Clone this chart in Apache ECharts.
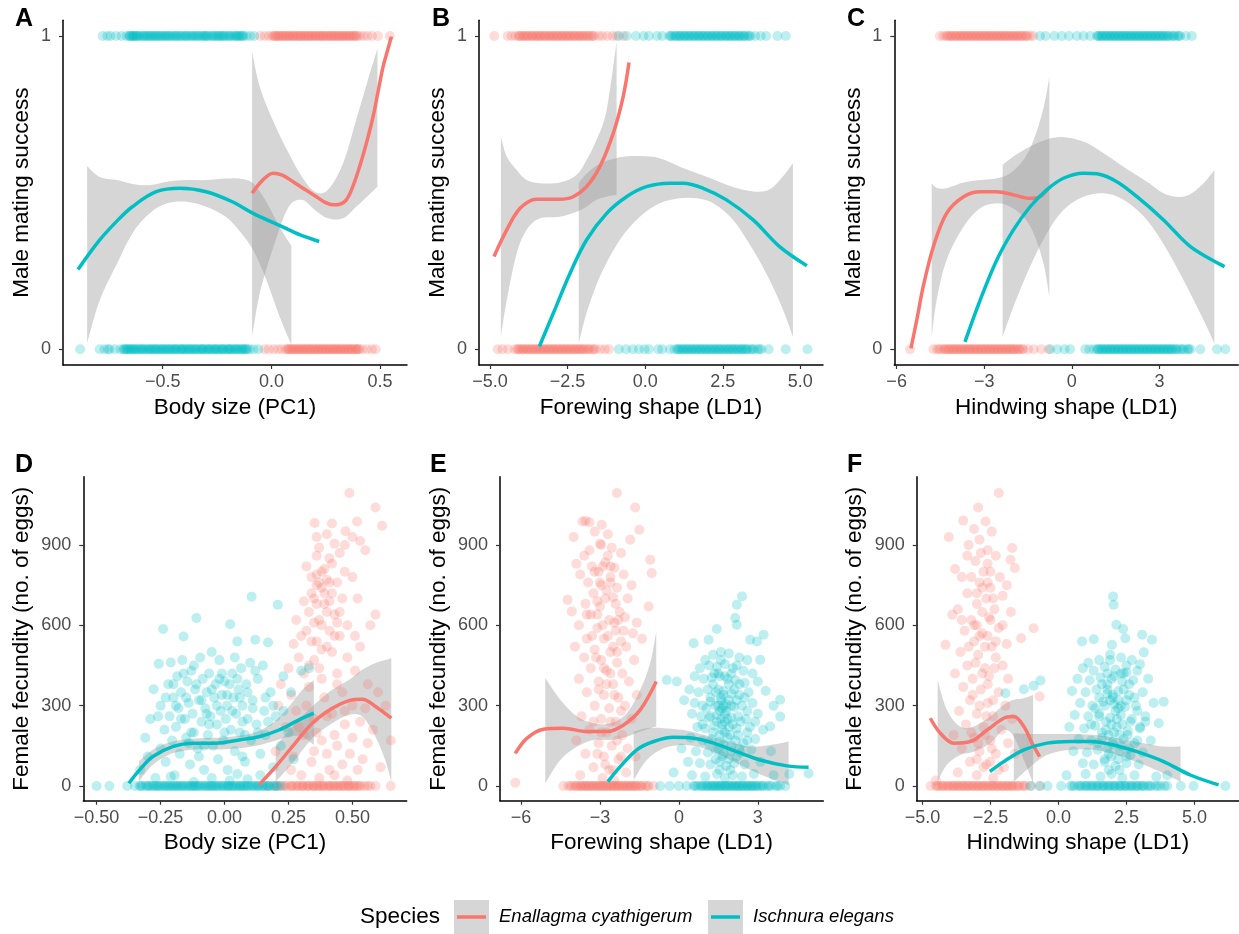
<!DOCTYPE html>
<html><head><meta charset="utf-8">
<script src="https://cdn.jsdelivr.net/npm/echarts@6/dist/echarts.min.js"></script>
<style>html,body{margin:0;padding:0;background:#fff}#c{width:1239px;height:934px}</style>
</head><body><div id="c"></div>
<script>
// ---------- tick values ----------
const ticksA = [-0.5, 0, 0.5];
const ticksB = [-5, -2.5, 0, 2.5, 5];
const ticksC = [-6, -3, 0, 3];
const ticksD = [-0.5, -0.25, 0, 0.25, 0.5];
const ticksE = [-6, -3, 0, 3];
const ticksF = [-5, -2.5, 0, 2.5, 5];
const ticksTopY = [0, 1];
const ticksBotY = [0, 300, 600, 900];

// ---------- Panel A : male mating success vs body size (x of successful=1 / unsuccessful=0) ----------
const aTopCyan = [-0.776,-0.755,-0.74,-0.715,-0.69,-0.668,-0.655,-0.648,-0.641,-0.633,-0.627,-0.618,-0.606,-0.597,-0.585,-0.578,-0.566,-0.553,-0.547,-0.534,-0.522,-0.515,-0.503,-0.494,-0.488,-0.476,-0.463,-0.455,-0.447,-0.436,-0.428,-0.414,-0.405,-0.398,-0.386,-0.377,-0.369,-0.356,-0.348,-0.335,-0.327,-0.318,-0.307,-0.296,-0.289,-0.277,-0.266,-0.258,-0.245,-0.238,-0.226,-0.214,-0.205,-0.197,-0.186,-0.175,-0.168,-0.157,-0.146,-0.138,-0.129,-0.115,-0.098,-0.079];
const aTopCyanCore = [-0.652,-0.637,-0.622,-0.611,-0.59,-0.571,-0.559,-0.54,-0.528,-0.508,-0.482,-0.469,-0.441,-0.42,-0.392,-0.362,-0.341,-0.312,-0.3,-0.271,-0.25,-0.232,-0.22,-0.19,-0.162,-0.151,-0.133];
const aTopRed = [-0.052,-0.03,-0.012,0.004,0.012,0.021,0.028,0.037,0.046,0.054,0.061,0.072,0.079,0.088,0.097,0.105,0.113,0.124,0.131,0.139,0.148,0.157,0.166,0.174,0.183,0.191,0.2,0.208,0.217,0.226,0.234,0.243,0.251,0.262,0.27,0.279,0.287,0.296,0.305,0.313,0.322,0.331,0.339,0.348,0.357,0.366,0.374,0.385,0.396,0.408,0.425,0.442,0.463,0.49,0.545];
const aTopRedCore = [0.016,0.033,0.05,0.067,0.084,0.101,0.119,0.135,0.153,0.17,0.187,0.204,0.222,0.238,0.256,0.274,0.291,0.309,0.327,0.344,0.361,0.379,0.39];
const aBotCyan = [-0.88,-0.79,-0.768,-0.752,-0.745,-0.72,-0.695,-0.681,-0.672,-0.664,-0.655,-0.643,-0.637,-0.626,-0.614,-0.606,-0.594,-0.583,-0.575,-0.562,-0.551,-0.544,-0.532,-0.521,-0.513,-0.502,-0.49,-0.483,-0.471,-0.46,-0.452,-0.44,-0.431,-0.42,-0.411,-0.399,-0.392,-0.38,-0.369,-0.361,-0.35,-0.338,-0.33,-0.318,-0.309,-0.297,-0.289,-0.276,-0.268,-0.257,-0.246,-0.238,-0.226,-0.217,-0.205,-0.196,-0.185,-0.176,-0.164,-0.153,-0.145,-0.133,-0.122,-0.111,-0.1,-0.082,-0.06];
const aBotCyanCore = [-0.676,-0.66,-0.648,-0.631,-0.62,-0.6,-0.589,-0.568,-0.556,-0.538,-0.527,-0.507,-0.496,-0.477,-0.465,-0.446,-0.436,-0.415,-0.405,-0.386,-0.374,-0.355,-0.344,-0.323,-0.314,-0.293,-0.282,-0.262,-0.252,-0.231,-0.221,-0.2,-0.19,-0.17,-0.159,-0.139,-0.127,-0.116];
const aBotRed = [-0.032,-0.012,0.01,0.03,0.048,0.066,0.074,0.083,0.091,0.099,0.108,0.117,0.125,0.134,0.142,0.151,0.16,0.168,0.177,0.185,0.194,0.203,0.212,0.22,0.229,0.237,0.246,0.255,0.263,0.272,0.28,0.289,0.298,0.306,0.315,0.323,0.332,0.341,0.35,0.358,0.367,0.376,0.385,0.394,0.404,0.418,0.44,0.462,0.48];
const aBotRedCore = [0.078,0.095,0.112,0.129,0.146,0.164,0.181,0.198,0.216,0.233,0.25,0.268,0.285,0.302,0.319,0.337,0.354,0.371,0.389,0.399];
const aRedFit = [[-0.089,0.498],[-0.04,0.54],[0.008,0.562],[0.05,0.556],[0.1,0.535],[0.155,0.51],[0.207,0.487],[0.25,0.468],[0.284,0.461],[0.315,0.463],[0.345,0.477],[0.375,0.52],[0.406,0.583],[0.438,0.66],[0.468,0.743],[0.493,0.83],[0.514,0.902],[0.535,0.955],[0.552,0.998]];
const aRedBand = [[-0.089,0.04,0.95],[-0.05,0.189,0.83],[0.02,0.349,0.71],[0.08,0.455,0.626],[0.14,0.477,0.551],[0.2,0.445,0.503],[0.26,0.418,0.509],[0.33,0.418,0.594],[0.39,0.455,0.732],[0.44,0.487,0.85],[0.488,0.519,0.96]];
const aCyanFit = [[-0.89,0.255],[-0.79,0.349],[-0.71,0.41],[-0.64,0.455],[-0.53,0.503],[-0.42,0.514],[-0.3,0.503],[-0.18,0.471],[-0.084,0.434],[0.054,0.39],[0.13,0.366],[0.22,0.344]];
const aCyanBand = [[-0.848,0.019,0.585],[-0.79,0.157,0.55],[-0.71,0.274,0.54],[-0.64,0.37,0.528],[-0.56,0.434,0.524],[-0.48,0.466,0.535],[-0.39,0.471,0.54],[-0.3,0.455,0.54],[-0.21,0.423,0.545],[-0.15,0.38,0.545],[-0.084,0.317,0.53],[-0.023,0.221,0.47],[0.038,0.104,0.39],[0.092,0.014,0.33]];

// ---------- Panel B : forewing shape ----------
const bTopRed = [-4.86,-4.43,-4.3,-4.18,-4.08,-4.02,-3.95,-3.88,-3.82,-3.75,-3.67,-3.61,-3.53,-3.47,-3.4,-3.34,-3.26,-3.2,-3.12,-3.05,-2.99,-2.92,-2.85,-2.79,-2.71,-2.65,-2.58,-2.51,-2.45,-2.37,-2.3,-2.24,-2.16,-2.09,-2.03,-1.95,-1.88,-1.8,-1.73,-1.64,-1.5,-1.38,-1.22,-1.05,-0.92,-0.7];
const bTopRedCore = [-4.05,-3.91,-3.78,-3.64,-3.5,-3.37,-3.23,-3.09,-2.95,-2.82,-2.68,-2.54,-2.41,-2.27,-2.13,-1.99,-1.84,-1.69];
const bTopCyan = [-0.85,-0.6,-0.3,-0.05,0.12,0.38,0.55,0.78,0.86,0.94,1.02,1.09,1.16,1.24,1.31,1.38,1.46,1.53,1.6,1.68,1.75,1.82,1.9,1.97,2.04,2.12,2.19,2.26,2.34,2.41,2.48,2.56,2.63,2.7,2.78,2.85,2.92,3.0,3.07,3.14,3.22,3.3,3.4,3.55,3.72,3.9,4.26,4.53];
const bTopCyanCore = [0.82,0.98,1.12,1.27,1.42,1.57,1.72,1.86,2.01,2.15,2.3,2.45,2.6,2.74,2.89,3.03,3.18,3.35];
const bBotRed = [-4.75,-4.6,-4.42,-4.2,-4.12,-4.05,-3.98,-3.91,-3.84,-3.77,-3.7,-3.63,-3.56,-3.49,-3.42,-3.35,-3.28,-3.21,-3.14,-3.07,-3.0,-2.93,-2.86,-2.79,-2.72,-2.65,-2.58,-2.51,-2.44,-2.37,-2.3,-2.23,-2.16,-2.09,-2.02,-1.95,-1.87,-1.79,-1.7,-1.6,-1.45,-1.3,-1.17];
const bBotRedCore = [-4.08,-3.94,-3.8,-3.66,-3.52,-3.38,-3.24,-3.1,-2.96,-2.82,-2.68,-2.55,-2.41,-2.27,-2.13,-1.99,-1.83,-1.65];
const bBotCyan = [-0.85,-0.62,-0.4,-0.2,-0.02,0.12,0.42,0.55,0.8,0.95,1.03,1.1,1.17,1.25,1.32,1.39,1.47,1.54,1.61,1.69,1.76,1.83,1.91,1.98,2.05,2.13,2.2,2.27,2.35,2.42,2.49,2.57,2.64,2.71,2.79,2.86,2.93,3.01,3.08,3.15,3.23,3.3,3.4,3.5,3.62,3.75,3.98,4.53,5.23];
const bBotCyanCore = [1.07,1.21,1.36,1.5,1.65,1.79,1.94,2.09,2.24,2.38,2.53,2.68,2.82,2.97,3.12,3.26,3.45,3.68];
const bRedFit = [[-4.87,0.296],[-4.46,0.381],[-4.03,0.45],[-3.5,0.479],[-2.75,0.479],[-2.32,0.487],[-1.89,0.519],[-1.46,0.583],[-1.03,0.689],[-0.71,0.806],[-0.52,0.915]];
const bRedBand = [[-4.65,0.04,0.679],[-4.46,0.157,0.615],[-4.14,0.306,0.572],[-3.82,0.381,0.54],[-3.39,0.418,0.53],[-2.75,0.423,0.532],[-2.21,0.439,0.556],[-1.89,0.455,0.604],[-1.57,0.477,0.668],[-1.24,0.487,0.764],[-0.92,0.493,0.982]];
const bCyanFit = [[-3.41,0.009],[-2.96,0.115],[-2.42,0.243],[-1.89,0.349],[-1.24,0.434],[-0.6,0.487],[0.04,0.519],[0.79,0.53],[1.22,0.53],[1.87,0.514],[2.62,0.477],[3.48,0.413],[4.33,0.328],[5.21,0.267]];
const bCyanBand = [[-2.14,0.019,0.53],[-1.89,0.115,0.56],[-1.46,0.232,0.592],[-0.82,0.349,0.613],[-0.17,0.423,0.617],[0.47,0.466,0.61],[1.12,0.482,0.583],[1.65,0.482,0.563],[2.19,0.466,0.543],[2.83,0.413,0.518],[3.48,0.317,0.504],[4.01,0.221,0.51],[4.44,0.126,0.552],[4.76,0.04,0.594]];

// ---------- Panel C : hindwing shape ----------
const cTopRed = [-4.52,-4.4,-4.31,-4.22,-4.15,-4.08,-4.0,-3.93,-3.86,-3.79,-3.72,-3.65,-3.58,-3.51,-3.44,-3.37,-3.3,-3.23,-3.16,-3.09,-3.02,-2.95,-2.88,-2.81,-2.74,-2.67,-2.6,-2.53,-2.46,-2.39,-2.32,-2.25,-2.18,-2.11,-2.04,-1.97,-1.9,-1.83,-1.76,-1.68,-1.6,-1.52,-1.42,-1.32];
const cTopRedCore = [-4.26,-4.12,-3.97,-3.83,-3.69,-3.55,-3.41,-3.27,-3.13,-2.99,-2.85,-2.71,-2.57,-2.43,-2.29,-2.15,-2.0,-1.86,-1.72,-1.56];
const cTopCyan = [-1.09,-0.9,-0.6,-0.35,-0.1,0.17,0.4,0.63,0.86,0.93,1.0,1.07,1.14,1.21,1.28,1.35,1.42,1.49,1.56,1.63,1.7,1.77,1.84,1.91,1.98,2.05,2.12,2.19,2.26,2.33,2.4,2.47,2.54,2.61,2.68,2.75,2.82,2.89,2.96,3.03,3.1,3.17,3.25,3.33,3.42,3.52,3.62,3.71,3.9,4.11];
const cTopCyanCore = [0.9,1.04,1.18,1.32,1.46,1.6,1.74,1.88,2.02,2.16,2.3,2.44,2.58,2.72,2.86,3.0,3.14,3.29,3.47,3.66];
const cBotRed = [-5.54,-4.74,-4.62,-4.5,-4.4,-4.32,-4.25,-4.18,-4.11,-4.04,-3.97,-3.9,-3.83,-3.76,-3.69,-3.62,-3.55,-3.48,-3.41,-3.34,-3.27,-3.2,-3.13,-3.06,-2.99,-2.92,-2.85,-2.78,-2.71,-2.64,-2.57,-2.5,-2.43,-2.36,-2.29,-2.22,-2.15,-2.08,-2.01,-1.94,-1.86,-1.78,-1.7,-1.5,-1.3,-1.05,-0.8];
const cBotRedCore = [-4.55,-4.36,-4.21,-4.07,-3.93,-3.79,-3.65,-3.51,-3.37,-3.23,-3.09,-2.95,-2.81,-2.67,-2.53,-2.39,-2.25,-2.11,-1.97,-1.82,-1.66];
const cBotCyan = [-0.74,-0.5,-0.25,-0.06,0.46,0.6,0.75,0.86,0.93,1.0,1.07,1.14,1.21,1.28,1.35,1.42,1.49,1.56,1.63,1.7,1.77,1.84,1.91,1.98,2.05,2.12,2.19,2.26,2.33,2.4,2.47,2.54,2.61,2.68,2.75,2.82,2.89,2.96,3.03,3.1,3.17,3.24,3.31,3.38,3.45,3.53,3.62,3.72,3.84,3.96,4.06,4.4,4.97,5.26];
const cBotCyanCore = [0.9,1.04,1.18,1.32,1.46,1.6,1.74,1.88,2.02,2.16,2.3,2.44,2.58,2.72,2.86,3.0,3.14,3.28,3.42,3.58,3.78,4.0];
const cRedFit = [[-5.51,0.003],[-5.31,0.094],[-5.09,0.2],[-4.74,0.328],[-4.29,0.434],[-3.71,0.487],[-3.14,0.503],[-2.57,0.503],[-2.0,0.493],[-1.43,0.482],[-1.09,0.487],[-0.8,0.514]];
const cRedBand = [[-4.8,0.04,0.53],[-4.63,0.157,0.516],[-4.29,0.285,0.514],[-3.71,0.391,0.532],[-3.14,0.45,0.54],[-2.57,0.466,0.546],[-2.11,0.455,0.562],[-1.66,0.423,0.604],[-1.31,0.37,0.668],[-0.97,0.274,0.77],[-0.77,0.168,0.87]];
const cCyanFit = [[-3.66,0.024],[-3.14,0.157],[-2.57,0.285],[-2.0,0.381],[-1.43,0.455],[-0.86,0.509],[-0.29,0.546],[0.4,0.562],[0.86,0.56],[1.54,0.535],[2.23,0.487],[3.14,0.413],[4.06,0.328],[5.23,0.264]];
const cCyanBand = [[-2.37,0.04,0.588],[-2.0,0.136,0.615],[-1.43,0.264,0.647],[-0.86,0.37,0.67],[-0.29,0.445,0.677],[0.4,0.487,0.663],[1.09,0.498,0.626],[1.77,0.477,0.583],[2.57,0.413,0.535],[3.26,0.317,0.493],[3.94,0.2,0.49],[4.51,0.094,0.53],[4.88,0.019,0.572]];

// ---------- Panel D : female fecundity vs body size ----------
const dCyan = [[-0.33,60],[-0.31,180],[-0.3,110],[-0.29,250],[-0.277,361],[-0.27,30],[-0.257,456],[-0.25,300],[-0.25,140],[-0.24,586],[-0.235,210],[-0.23,90],[-0.22,380],[-0.215,260],[-0.21,461],[-0.205,170],[-0.2,330],[-0.195,40],[-0.19,220],[-0.185,410],[-0.18,290],[-0.175,120],[-0.17,350],[-0.165,470],[-0.16,558],[-0.155,250],[-0.15,180],[-0.145,390],[-0.14,310],[-0.135,80],[-0.13,430],[-0.125,270],[-0.12,200],[-0.115,360],[-0.11,627],[-0.105,140],[-0.1,320],[-0.095,480],[-0.09,240],[-0.085,400],[-0.08,60],[-0.075,290],[-0.07,350],[-0.065,190],[-0.06,420],[-0.055,260],[-0.05,500],[-0.045,150],[-0.04,330],[-0.035,380],[-0.03,230],[-0.025,100],[-0.02,400],[-0.015,280],[-0.01,340],[-0.005,170],[0,390],[0.005,250],[0.01,300],[0.012,60],[0.022,604],[0.025,210],[0.03,420],[0.035,330],[0.04,130],[0.045,270],[0.05,540],[0.055,360],[0.06,200],[0.065,440],[0.07,300],[0.08,90],[0.085,380],[0.09,250],[0.1,460],[0.104,170],[0.106,707],[0.11,320],[0.12,546],[0.125,230],[0.13,400],[0.14,120],[0.15,450],[0.155,280],[0.16,190],[0.17,536],[0.18,350],[0.19,70],[0.2,260],[0.208,677],[0.22,150],[0.23,410],[0.25,200],[0.27,100],[0.3,430],[0.33,440],[-0.05,30],[0.02,20],[0.05,45],[0.09,25],[-0.12,15],[-0.21,35],[0.14,40]];
const dCyanCore = [[-0.19,300],[-0.17,250],[-0.15,330],[-0.13,200],[-0.11,380],[-0.09,320],[-0.07,270],[-0.05,360],[-0.03,300],[-0.01,420],[0.01,340],[0.03,280],[0.05,400],[0.07,240],[0.09,350],[0.11,290],[0.13,200],[-0.16,420],[-0.12,450],[-0.06,230],[0.02,380],[0.06,330],[-0.2,380],[-0.08,150],[0.0,200],[0.08,190],[-0.14,160],[0.12,430],[-0.02,470],[0.04,480],[-0.23,330],[-0.26,260],[0.16,330],[0.19,300],[-0.1,110],[0.07,110],[0.17,240],[0.23,280],[0.26,350]];
const dCyanZero = [-0.5,-0.45,-0.38,-0.35,-0.332,-0.321,-0.309,-0.302,-0.29,-0.281,-0.268,-0.262,-0.25,-0.241,-0.229,-0.222,-0.21,-0.203,-0.191,-0.18,-0.172,-0.161,-0.153,-0.14,-0.133,-0.122,-0.111,-0.104,-0.092,-0.083,-0.071,-0.064,-0.052,-0.041,-0.033,-0.022,-0.013,-0.002,0.008,0.017,0.029,0.036,0.048,0.057,0.066,0.078,0.085,0.097,0.106,0.118,0.127,0.136,0.147,0.158,0.166,0.178,0.19,0.205,0.22];
const dCyanZeroCore = [-0.327,-0.296,-0.275,-0.256,-0.235,-0.216,-0.197,-0.185,-0.166,-0.147,-0.128,-0.116,-0.098,-0.077,-0.058,-0.046,-0.028,-0.007,0.012,0.024,0.042,0.061,0.073,0.091,0.112,0.131,0.151,0.172,0.195];
const dRed = [[0.488,1094],[0.59,1040],[0.616,972],[0.352,982],[0.518,988],[0.473,951],[0.5,930],[0.4,940],[0.43,905],[0.53,915],[0.37,890],[0.45,870],[0.55,880],[0.32,820],[0.41,850],[0.36,860],[0.47,800],[0.39,810],[0.34,780],[0.44,760],[0.38,740],[0.42,720],[0.35,700],[0.4,770],[0.36,750],[0.31,690],[0.46,700],[0.33,650],[0.39,680],[0.43,640],[0.37,620],[0.5,780],[0.52,700],[0.57,600],[0.59,640],[0.28,620],[0.3,560],[0.34,540],[0.41,580],[0.45,560],[0.38,510],[0.27,530],[0.29,480],[0.35,470],[0.42,500],[0.48,480],[0.53,520],[0.25,440],[0.31,420],[0.37,440],[0.44,420],[0.51,430],[0.56,380],[0.6,350],[0.22,380],[0.26,340],[0.33,370],[0.39,330],[0.46,350],[0.5,300],[0.55,290],[0.63,300],[0.21,300],[0.28,280],[0.35,250],[0.42,270],[0.47,230],[0.53,240],[0.58,210],[0.24,220],[0.31,190],[0.38,170],[0.44,150],[0.5,180],[0.56,160],[0.65,170],[0.2,130],[0.27,110],[0.34,90],[0.4,120],[0.46,80],[0.52,60],[0.61,70],[0.3,40],[0.37,30],[0.43,40],[0.48,20],[0.36,790],[0.41,760],[0.38,600],[0.44,610]];
const dRedCore = [[0.34,720],[0.36,680],[0.38,800],[0.4,650],[0.42,830],[0.37,760],[0.39,720],[0.41,690],[0.35,610],[0.43,560],[0.36,540],[0.4,520],[0.33,450],[0.38,400],[0.44,380],[0.32,300],[0.4,260],[0.47,280],[0.36,200],[0.43,190],[0.49,120],[0.35,130],[0.41,60],[0.54,100],[0.26,60],[0.29,220],[0.45,650],[0.48,600],[0.51,560],[0.32,580],[0.47,900],[0.42,980],[0.36,930]];
const dRedZero = [0.17,0.2,0.214,0.228,0.243,0.257,0.268,0.279,0.291,0.302,0.31,0.322,0.331,0.343,0.352,0.361,0.373,0.382,0.391,0.403,0.412,0.42,0.432,0.441,0.452,0.46,0.471,0.482,0.49,0.501,0.512,0.52,0.534,0.548,0.57,0.59,0.65];
const dRedZeroCore = [0.205,0.236,0.262,0.285,0.306,0.326,0.347,0.367,0.386,0.408,0.427,0.446,0.466,0.486,0.506,0.527,0.56];
const dCyanFit = [[-0.374,10],[-0.332,60],[-0.28,110],[-0.203,147],[-0.125,160],[-0.034,160],[0.057,172],[0.135,184],[0.213,209],[0.291,247],[0.349,272]];
const dCyanBand = [[-0.335,16,91],[-0.28,79,135],[-0.203,122,166],[-0.1,137,178],[0.005,137,182],[0.109,147,197],[0.187,166,234],[0.252,184,297],[0.304,184,359],[0.349,153,396]];
const dRedFit = [[0.135,4],[0.2,72],[0.265,147],[0.343,234],[0.421,290],[0.486,319],[0.538,324],[0.59,297],[0.652,253]];
const dRedBand = [[0.2,16,147],[0.265,85,222],[0.343,178,297],[0.421,234,359],[0.486,265,396],[0.538,259,434],[0.59,184,459],[0.628,97,470],[0.652,16,477]];

// ---------- Panel E : forewing shape ----------
const eRed = [[-2.36,1094],[-1.66,1040],[-3.66,988],[-3.55,990],[-3.4,985],[-2.93,976],[-1.5,957],[-4.0,930],[-3.2,950],[-2.7,940],[-1.85,920],[-3.0,905],[-2.55,890],[-3.6,860],[-2.2,870],[-1.09,845],[-3.9,830],[-2.8,835],[-3.3,820],[-2.45,815],[-1.03,795],[-3.75,790],[-3.05,800],[-2.6,780],[-2.1,790],[-3.45,760],[-2.95,750],[-2.35,740],[-1.8,750],[-4.23,695],[-3.25,720],[-2.75,730],[-2.5,705],[-1.95,700],[-3.55,680],[-3.0,670],[-1.15,670],[-2.25,650],[-4.07,652],[-3.35,640],[-2.65,620],[-2.05,630],[-1.6,610],[-3.8,600],[-3.1,590],[-2.4,580],[-1.75,570],[-3.5,550],[-2.85,550],[-2.2,540],[-1.4,550],[-3.95,520],[-3.2,510],[-2.6,500],[-2.0,520],[-3.6,480],[-2.95,470],[-2.35,460],[-1.7,470],[-3.35,440],[-2.75,430],[-2.15,420],[-3.8,400],[-3.05,390],[-2.5,380],[-1.9,390],[-3.5,350],[-2.85,340],[-2.3,330],[-1.6,340],[-3.2,300],[-2.65,290],[-2.05,300],[-3.7,260],[-2.95,250],[-2.4,240],[-1.8,250],[-3.4,210],[-2.75,200],[-2.15,190],[-3.9,170],[-3.05,160],[-2.55,150],[-1.95,140],[-3.55,120],[-2.85,110],[-2.3,100],[-1.65,110],[-3.25,70],[-2.65,60],[-2.0,50],[-3.75,40],[-2.9,30],[-2.45,20],[-6.22,12],[-2.9,820],[-2.6,760],[-3.1,690],[-2.45,610]];
const eRedCore = [[-3.2,800],[-3.0,760],[-2.8,700],[-2.6,820],[-2.4,680],[-3.1,640],[-2.9,600],[-2.7,560],[-2.5,520],[-2.3,620],[-3.3,560],[-3.15,480],[-2.85,440],[-2.6,420],[-2.35,500],[-3.05,360],[-2.75,380],[-2.45,340],[-2.2,280],[-3.25,240],[-2.95,200],[-2.6,240],[-2.35,170],[-3.1,120],[-2.8,80],[-2.5,60],[-2.2,110],[-3.4,880],[-2.95,900],[-2.7,860],[-3.5,640],[-2.1,580]];
const eRedZero = [-4.39,-4.2,-4.05,-3.95,-3.85,-3.76,-3.68,-3.6,-3.52,-3.44,-3.36,-3.28,-3.2,-3.12,-3.04,-2.96,-2.88,-2.8,-2.72,-2.64,-2.56,-2.48,-2.4,-2.32,-2.24,-2.16,-2.08,-2.0,-1.92,-1.84,-1.76,-1.68,-1.6,-1.5,-1.4,-1.28,-1.15,-0.96];
const eRedZeroCore = [-4.12,-3.9,-3.72,-3.56,-3.4,-3.24,-3.08,-2.92,-2.76,-2.6,-2.44,-2.28,-2.12,-1.96,-1.8,-1.64,-1.45,-1.2];
const eCyan = [[2.4,708],[2.2,677],[2.14,627],[2.2,602],[1.44,586],[1.13,546],[0.56,533],[3.22,565],[2.97,540],[2.71,546],[3.09,471],[-0.46,396],[-0.08,390],[3.85,322],[3.85,259],[4.93,47],[3.47,222],[1.0,470],[1.3,490],[1.6,500],[1.9,495],[2.3,480],[2.6,470],[0.8,440],[1.15,450],[1.45,445],[1.75,455],[2.05,440],[2.45,430],[2.8,420],[0.6,410],[0.95,400],[1.25,405],[1.55,410],[1.85,400],[2.15,395],[2.5,385],[3.0,390],[0.4,360],[0.75,350],[1.1,360],[1.4,350],[1.7,355],[2.0,345],[2.3,340],[2.65,350],[3.3,355],[0.2,320],[0.6,310],[0.9,300],[1.2,315],[1.5,300],[1.65,290],[1.8,305],[2.1,295],[2.4,300],[2.8,310],[3.6,300],[0.5,270],[0.85,260],[1.15,255],[1.45,265],[1.6,250],[1.75,270],[2.0,255],[2.25,260],[2.55,250],[3.0,270],[0.7,220],[1.0,215],[1.35,225],[1.65,210],[1.9,220],[2.2,215],[2.6,200],[3.2,210],[0.45,180],[0.9,170],[1.25,175],[1.55,165],[1.85,180],[2.15,170],[2.45,160],[2.9,175],[0.1,140],[0.65,130],[1.1,125],[1.4,135],[1.7,120],[2.0,130],[2.35,125],[2.75,135],[3.5,130],[0.35,90],[0.8,85],[1.2,80],[1.55,90],[1.8,75],[2.1,85],[2.5,80],[3.1,90],[-0.2,50],[0.5,40],[1.0,35],[1.45,45],[1.75,30],[2.05,40],[2.4,35],[2.85,45],[3.6,40],[4.2,45],[1.6,330],[1.7,300],[1.55,280],[1.75,240],[1.9,380],[1.35,420]];
const eCyanCore = [[1.3,380],[1.5,360],[1.7,340],[1.9,320],[2.1,360],[2.3,380],[1.4,300],[1.6,320],[1.8,280],[2.0,300],[2.2,320],[2.5,330],[1.2,260],[1.45,240],[1.65,230],[1.85,250],[2.05,230],[2.35,240],[1.3,200],[1.55,190],[1.75,200],[1.95,190],[2.25,190],[1.15,160],[1.5,140],[1.7,155],[2.0,150],[2.3,140],[1.4,100],[1.65,110],[1.9,100],[2.2,110],[1.5,420],[1.75,410],[2.0,420],[2.2,450],[1.6,470],[1.2,330],[2.6,280],[2.7,220],[1.05,290],[0.9,230],[1.55,60],[1.95,60],[2.6,170],[2.9,240]];
const eCyanZero = [-0.71,-0.35,0.0,0.3,0.56,0.7,0.82,0.93,1.03,1.12,1.21,1.3,1.38,1.47,1.55,1.63,1.72,1.8,1.88,1.97,2.05,2.14,2.22,2.3,2.39,2.47,2.56,2.64,2.73,2.82,2.9,3.0,3.1,3.22,3.35,3.5,3.68,3.85,4.05];
const eCyanZeroCore = [0.62,0.88,1.08,1.26,1.42,1.59,1.76,1.93,2.1,2.26,2.43,2.6,2.77,2.95,3.16,3.42,3.75];
const eRedFit = [[-6.22,122],[-5.78,178],[-5.15,212],[-4.39,216],[-3.5,203],[-2.74,203],[-2.1,228],[-1.47,284],[-0.86,390]];
const eRedBand = [[-5.08,10,403],[-4.51,97,322],[-3.87,147,259],[-3.24,172,234],[-2.61,172,234],[-1.98,184,272],[-1.47,203,359],[-1.09,216,459],[-0.86,222,577]];
const eCyanFit = [[-2.7,16],[-2.23,72],[-1.6,135],[-0.96,166],[-0.2,182],[0.56,178],[1.32,160],[2.2,128],[3.09,97],[4.11,75],[4.93,70]];
const eCyanBand = [[-1.72,22,203],[-1.22,97,216],[-0.58,141,216],[0.18,153,209],[0.94,141,191],[1.83,103,166],[2.71,60,147],[3.47,29,153],[4.17,4,166]];

// ---------- Panel F : hindwing shape ----------
const fRed = [[-2.19,1094],[-2.95,1040],[-3.5,991],[-2.68,988],[-4.03,930],[-3.1,960],[-2.45,950],[-2.9,920],[-1.7,889],[-3.3,900],[-2.6,880],[-1.76,845],[-3.8,810],[-2.3,860],[-1.6,814],[-3.05,840],[-2.75,800],[-3.55,780],[-2.15,780],[-2.9,760],[-2.5,740],[-1.9,750],[-3.35,720],[-2.65,700],[-2.05,710],[-3.7,660],[-3.0,680],[-2.35,660],[-1.75,650],[-3.9,640],[-3.2,620],[-2.55,630],[-0.91,589],[-1.37,552],[-4.15,527],[-3.45,580],[-2.8,570],[-2.2,590],[-3.1,540],[-2.45,520],[-1.9,530],[-3.6,500],[-2.95,490],[-2.3,480],[-3.35,450],[-2.7,440],[-2.05,450],[-3.8,420],[-3.15,400],[-2.55,410],[-1.85,400],[-3.5,370],[-2.85,360],[-2.2,350],[-0.69,334],[-3.25,320],[-2.6,310],[-1.95,300],[-3.65,280],[-3.0,270],[-2.4,260],[-1.7,250],[-3.4,230],[-2.75,220],[-2.1,210],[-3.85,190],[-3.1,180],[-2.5,170],[-1.85,160],[-3.55,140],[-2.9,130],[-2.3,120],[-1.6,120],[-3.25,90],[-2.65,80],[-2.0,70],[-3.7,50],[-3.0,40],[-2.4,30],[-4.5,20],[-2.8,740],[-2.5,800],[-3.0,600],[-2.6,560]];
const fRedCore = [[-3.2,780],[-3.0,720],[-2.8,650],[-2.6,760],[-2.4,700],[-3.1,600],[-2.9,560],[-2.7,520],[-2.5,620],[-2.3,540],[-3.3,520],[-3.05,460],[-2.8,420],[-2.6,380],[-2.35,440],[-3.15,340],[-2.9,300],[-2.65,260],[-2.4,320],[-3.2,200],[-2.95,160],[-2.7,190],[-2.45,140],[-3.0,100],[-2.75,70],[-2.5,90],[-2.2,60],[-3.35,860],[-2.85,870],[-2.6,830],[-3.55,620],[-2.05,600]];
const fRedZero = [-4.7,-4.5,-4.4,-4.3,-4.2,-4.1,-4.0,-3.91,-3.82,-3.73,-3.64,-3.55,-3.46,-3.37,-3.28,-3.19,-3.1,-3.01,-2.92,-2.83,-2.74,-2.65,-2.56,-2.47,-2.38,-2.29,-2.2,-2.11,-2.02,-1.93,-1.84,-1.75,-1.66,-1.56,-1.45,-1.33,-1.2,-1.0,-0.66];
const fRedZeroCore = [-4.45,-4.25,-4.05,-3.86,-3.68,-3.5,-3.32,-3.14,-2.96,-2.78,-2.6,-2.42,-2.24,-2.06,-1.88,-1.7,-1.5,-1.27];
const fCyan = [[2.01,708],[2.03,677],[2.13,602],[2.38,586],[2.46,552],[3.08,565],[3.44,546],[3.14,499],[0.87,540],[1.3,548],[1.97,527],[-0.66,394],[-0.91,374],[-1.27,361],[-1.95,346],[3.87,315],[3.69,234],[1.1,460],[1.5,470],[1.9,490],[2.3,480],[2.7,470],[3.0,455],[0.9,440],[1.3,430],[1.7,445],[2.1,435],[2.5,425],[2.9,430],[0.7,400],[1.15,395],[1.55,405],[1.95,400],[2.35,390],[2.75,395],[3.3,400],[0.5,355],[1.0,350],[1.4,360],[1.8,345],[2.2,355],[2.6,340],[3.1,350],[0.8,310],[1.25,300],[1.65,315],[2.05,305],[2.45,295],[2.85,300],[3.5,310],[0.6,265],[1.1,260],[1.5,270],[1.9,255],[2.3,265],[2.7,250],[3.2,260],[0.4,220],[0.95,215],[1.35,225],[1.75,210],[2.15,220],[2.55,205],[3.0,215],[0.75,175],[1.2,170],[1.6,180],[2.0,165],[2.4,175],[2.8,160],[3.4,170],[0.55,130],[1.05,125],[1.45,135],[1.85,120],[2.25,130],[2.65,115],[3.1,125],[0.9,85],[1.3,80],[1.7,90],[2.1,75],[2.5,85],[2.95,80],[0.3,40],[1.0,45],[1.55,35],[1.95,45],[2.35,30],[2.8,40],[3.6,35],[4.0,40],[2.0,330],[2.2,290],[1.8,380],[2.4,420]];
const fCyanCore = [[1.6,380],[1.8,360],[2.0,340],[2.2,320],[2.4,360],[2.6,380],[1.7,300],[1.9,320],[2.1,280],[2.3,300],[2.5,320],[2.8,330],[1.5,260],[1.75,240],[1.95,230],[2.15,250],[2.35,230],[2.65,240],[1.6,200],[1.85,190],[2.05,200],[2.25,190],[2.55,190],[1.45,160],[1.8,140],[2.0,155],[2.3,150],[2.6,140],[1.7,100],[1.95,110],[2.2,100],[2.5,110],[1.8,420],[2.05,410],[2.3,420],[2.5,450],[1.9,470],[1.5,330],[2.9,280],[3.0,220],[1.35,290],[1.2,230],[1.85,60],[2.25,60],[2.9,170],[3.2,240]];
const fCyanZero = [-1.03,-0.7,-0.4,0.1,0.44,0.6,0.74,0.86,0.97,1.08,1.18,1.29,1.39,1.49,1.6,1.7,1.8,1.91,2.01,2.11,2.22,2.32,2.42,2.53,2.63,2.73,2.84,2.94,3.05,3.16,3.28,3.42,3.57,3.75,4.0,4.5,4.97,6.14];
const fCyanZeroCore = [0.52,0.8,1.02,1.23,1.44,1.65,1.85,2.06,2.27,2.47,2.68,2.89,3.1,3.35,3.65,3.9];
const fRedFit = [[-4.71,253],[-4.34,197],[-3.85,160],[-3.24,166],[-2.62,209],[-2.01,253],[-1.64,259],[-1.27,222],[-0.97,160],[-0.69,110]];
const fRedBand = [[-4.44,16,396],[-4.1,79,284],[-3.61,116,222],[-3.12,128,222],[-2.5,160,259],[-2.01,209,303],[-1.64,184,322],[-1.27,97,328],[-0.93,10,340]];
const fCyanFit = [[-2.52,54],[-2.01,91],[-1.27,135],[-0.42,160],[0.44,166],[1.18,166],[2.03,153],[2.89,128],[3.87,91],[4.85,41],[5.89,4]];
const fCyanBand = [[-1.64,16,197],[-1.03,72,194],[-0.42,116,194],[0.44,135,194],[1.3,135,191],[2.16,116,178],[3.14,79,160],[3.87,47,147],[4.49,16,147]];

// ---------- text ----------
const topYTitle = 'Male mating success';
const botYTitle = 'Female fecundity (no. of eggs)';
const xTitles = ['Body size (PC1)', 'Forewing shape (LD1)', 'Hindwing shape (LD1)'];
const speciesNames = ['Enallagma cyathigerum', 'Ischnura elegans'];

// ---------- build ----------
const RED = '#F8766D', CYAN = '#00BFC4';
const FONT = '"Liberation Sans", Arial, Helvetica, sans-serif';
const MINUS = '\u2212';
const fmt = d => v => (v < 0 ? MINUS : '') + Math.abs(v).toFixed(d);
const at = (arr, y) => arr.map(x => [x, y]);

const panels = [
  {L:'A', lx:15, ly:19, grid:{left:63, top:20.3, width:344, height:344.7}, xr:[-0.959,0.624], yr:[-0.05,1.05], xt:ticksA, xd:1, yt:ticksTopY, xn:xTitles[0], yn:topYTitle, yGap:41,
   red: at(aTopRed.concat(aTopRedCore),1).concat(at(aBotRed.concat(aBotRedCore),0)), cyan: at(aTopCyan.concat(aTopCyanCore),1).concat(at(aBotCyan.concat(aBotCyanCore),0)), rf:aRedFit, rb:aRedBand, cf:aCyanFit, cb:aCyanBand},
  {L:'B', lx:432, ly:19, grid:{left:479, top:20.3, width:344, height:344.7}, xr:[-5.354,5.73], yr:[-0.05,1.05], xt:ticksB, xd:1, yt:ticksTopY, xn:xTitles[1], yn:topYTitle, yGap:41,
   red: at(bTopRed.concat(bTopRedCore),1).concat(at(bBotRed.concat(bBotRedCore),0)), cyan: at(bTopCyan.concat(bTopCyanCore),1).concat(at(bBotCyan.concat(bBotCyanCore),0)), rf:bRedFit, rb:bRedBand, cf:bCyanFit, cb:bCyanBand},
  {L:'C', lx:847, ly:19, grid:{left:894.3, top:20.3, width:344, height:344.7}, xr:[-6.08,5.70], yr:[-0.05,1.05], xt:ticksC, xd:0, yt:ticksTopY, xn:xTitles[2], yn:topYTitle, yGap:41,
   red: at(cTopRed.concat(cTopRedCore),1).concat(at(cBotRed.concat(cBotRedCore),0)), cyan: at(cTopCyan.concat(cTopCyanCore),1).concat(at(cBotCyan.concat(cBotCyanCore),0)), rf:cRedFit, rb:cRedBand, cf:cCyanFit, cb:cCyanBand},
  {L:'D', lx:15, ly:465, grid:{left:83.3, top:476.7, width:323.4, height:324}, xr:[-0.552,0.712], yr:[-55,1155], xt:ticksD, xd:2, yt:ticksBotY, xn:xTitles[0], yn:botYTitle, yGap:61.5,
   red: dRed.concat(dRedCore, at(dRedZero.concat(dRedZeroCore),0)), cyan: dCyan.concat(dCyanCore, at(dCyanZero.concat(dCyanZeroCore),0)), rf:dRedFit, rb:dRedBand, cf:dCyanFit, cb:dCyanBand},
  {L:'E', lx:430, ly:465, grid:{left:500, top:476.7, width:323.3, height:324}, xr:[-6.80,5.49], yr:[-55,1155], xt:ticksE, xd:0, yt:ticksBotY, xn:xTitles[1], yn:botYTitle, yGap:61.5,
   red: eRed.concat(eRedCore, at(eRedZero.concat(eRedZeroCore),0)), cyan: eCyan.concat(eCyanCore, at(eCyanZero.concat(eCyanZeroCore),0)), rf:eRedFit, rb:eRedBand, cf:eCyanFit, cb:eCyanBand},
  {L:'F', lx:847, ly:465, grid:{left:916.7, top:476.7, width:322.3, height:324}, xr:[-5.21,6.64], yr:[-55,1155], xt:ticksF, xd:1, yt:ticksBotY, xn:xTitles[2], yn:botYTitle, yGap:61.5,
   red: fRed.concat(fRedCore, at(fRedZero.concat(fRedZeroCore),0)), cyan: fCyan.concat(fCyanCore, at(fCyanZero.concat(fCyanZeroCore),0)), rf:fRedFit, rb:fRedBand, cf:fCyanFit, cb:fCyanBand}
];

function segs(p) {
  let s = '';
  for (let i = 0; i < p.length - 1; i++) {
    const p0 = p[Math.max(i - 1, 0)], p1 = p[i], p2 = p[i + 1], p3 = p[Math.min(i + 2, p.length - 1)];
    s += 'C' + (p1[0] + (p2[0] - p0[0]) / 6) + ',' + (p1[1] + (p2[1] - p0[1]) / 6) + ' ' +
         (p2[0] - (p3[0] - p1[0]) / 6) + ',' + (p2[1] - (p3[1] - p1[1]) / 6) + ' ' + p2[0] + ',' + p2[1];
  }
  return s;
}
function bandSeries(i, band) {
  return {
    type: 'custom', coordinateSystem: 'cartesian2d', xAxisIndex: i, yAxisIndex: i, silent: true,
    data: [[band[0][0], band[0][1]]],
    renderItem: (params, api) => {
      const up = band.map(d => api.coord([d[0], d[2]]));
      const lo = band.map(d => api.coord([d[0], d[1]])).reverse();
      const path = 'M' + up[0][0] + ',' + up[0][1] + segs(up) + 'L' + lo[0][0] + ',' + lo[0][1] + segs(lo) + 'Z';
      return { type: 'path', shape: { pathData: path }, style: { fill: 'rgba(153,153,153,0.4)' } };
    }
  };
}
function fitSeries(i, fit, color, name) {
  return { type: 'line', name: name, xAxisIndex: i, yAxisIndex: i, data: fit, smooth: 0.35, symbol: 'none', silent: true,
           lineStyle: { color: color, width: 3.5 }, itemStyle: { color: color } };
}
function ptSeries(i, pts, color, name) {
  return { type: 'scatter', name: name, xAxisIndex: i, yAxisIndex: i, data: pts, symbolSize: 10, silent: true,
           itemStyle: { color: color, opacity: 0.26 } };
}

const grids = [], xAxes = [], yAxes = [], series = [], graphics = [];
panels.forEach((p, i) => {
  grids.push(Object.assign({ containLabel: false }, p.grid));
  xAxes.push({
    gridIndex: i, type: 'value', min: p.xr[0], max: p.xr[1], splitLine: { show: false },
    axisLine: { show: true, onZero: false, lineStyle: { color: '#000', width: 1.5 } },
    axisTick: { show: true, length: 4, customValues: p.xt, lineStyle: { color: '#333', width: 1.2 } },
    axisLabel: { customValues: p.xt, formatter: fmt(p.xd), color: '#4D4D4D', fontSize: 18, fontFamily: FONT, margin: 8 },
    name: p.xn, nameLocation: 'middle', nameGap: 42.5,
    nameTextStyle: { fontSize: 22.5, color: '#000', fontFamily: FONT, verticalAlign: 'middle' }
  });
  yAxes.push({
    gridIndex: i, type: 'value', min: p.yr[0], max: p.yr[1], splitLine: { show: false },
    axisLine: { show: true, onZero: false, lineStyle: { color: '#000', width: 1.5 } },
    axisTick: { show: true, length: 4, customValues: p.yt, lineStyle: { color: '#333', width: 1.2 } },
    axisLabel: { customValues: p.yt, formatter: v => String(v), color: '#4D4D4D', fontSize: 18, fontFamily: FONT, margin: 12 },
    name: p.yn, nameLocation: 'middle', nameGap: p.yGap,
    nameTextStyle: { fontSize: 22.5, color: '#000', fontFamily: FONT, verticalAlign: 'middle', align: 'center' }
  });
  series.push(ptSeries(i, p.red, RED, speciesNames[0]));
  series.push(ptSeries(i, p.cyan, CYAN, speciesNames[1]));
  series.push(bandSeries(i, p.rb));
  series.push(fitSeries(i, p.rf, RED, speciesNames[0]));
  series.push(bandSeries(i, p.cb));
  series.push(fitSeries(i, p.cf, CYAN, speciesNames[1]));
  graphics.push({ type: 'text', x: p.lx, y: p.ly, style: { text: p.L, fontSize: 25, fontWeight: 'bold', fontFamily: FONT, fill: '#000', align: 'left', verticalAlign: 'middle' } });
});

// legend (drawn as graphic elements to reproduce the grey key boxes)
const LY = 917;
graphics.push({ type: 'text', x: 360, y: LY, style: { text: 'Species', fontSize: 22.5, fontFamily: FONT, fill: '#000', align: 'left', verticalAlign: 'middle' } });
[[454, RED, 499, speciesNames[0]], [708, CYAN, 753, speciesNames[1]]].forEach(k => {
  graphics.push({ type: 'rect', shape: { x: k[0], y: LY - 17, width: 35, height: 34 }, style: { fill: '#D6D6D6' } });
  graphics.push({ type: 'line', shape: { x1: k[0] + 3, y1: LY, x2: k[0] + 32, y2: LY }, style: { stroke: k[1], lineWidth: 3.5 } });
  graphics.push({ type: 'text', x: k[2], y: LY, style: { text: k[3], fontSize: 18.5, fontStyle: 'italic', fontFamily: FONT, fill: '#000', align: 'left', verticalAlign: 'middle' } });
});

const chart = echarts.init(document.getElementById('c'), null, { renderer: 'canvas', width: 1239, height: 934 });
chart.setOption({
  animation: false,
  backgroundColor: '#fff',
  grid: grids, xAxis: xAxes, yAxis: yAxes, series: series, graphic: graphics
});
</script></body></html>
